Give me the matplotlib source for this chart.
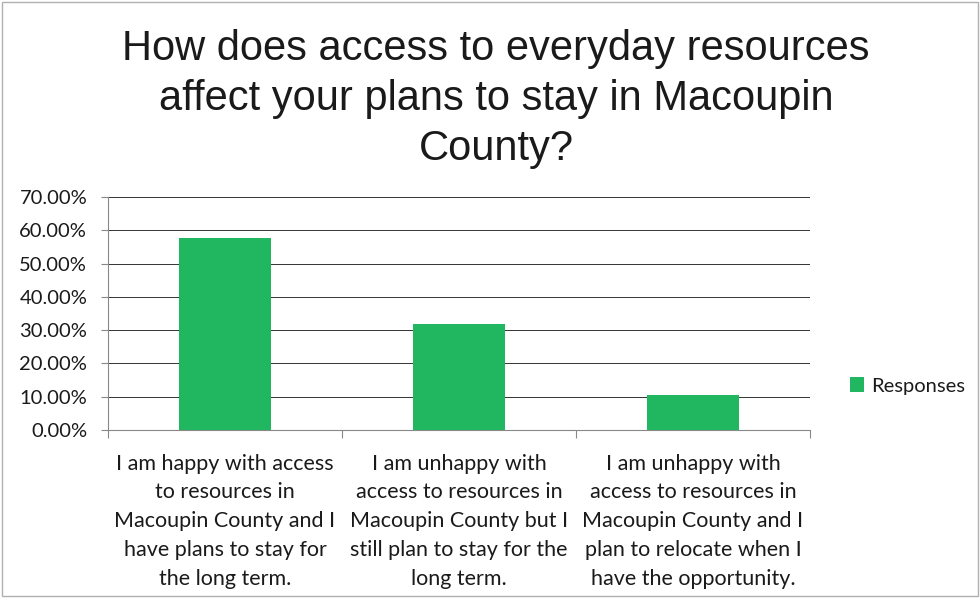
import matplotlib.pyplot as plt
from matplotlib.ticker import FuncFormatter, MultipleLocator
from matplotlib.patches import Rectangle

# survey answers and their share of responses
categories = [
    "I am happy with access\nto resources in\nMacoupin County and I\nhave plans to stay for\nthe long term.",
    "I am unhappy with\naccess to resources in\nMacoupin County but I\nstill plan to stay for the\nlong term.",
    "I am unhappy with\naccess to resources in\nMacoupin County and I\nplan to relocate when I\nhave the opportunity.",
]
responses = [0.576, 0.318, 0.106]
series_name = "Responses"
title = "How does access to everyday resources\naffect your plans to stay in Macoupin\nCounty?"

green = "#21b660"
label_font = ["Lato", "DejaVu Sans"]

fig = plt.figure(figsize=(9.8, 5.98), dpi=100)
fig.patch.set_facecolor("white")
# thin frame round the whole chart
fig.add_artist(Rectangle((0.002, 0.003), 0.996, 0.994, transform=fig.transFigure,
                         fill=False, edgecolor="#b0b0b0", linewidth=1))

ax = fig.add_axes([108 / 980, 1 - 430 / 598, 702 / 980, 233 / 598])

x = range(len(categories))
ax.bar(x, responses, width=0.39, color=green, zorder=3, label=series_name)

ax.set_xlim(-0.5, len(categories) - 0.5)
ax.set_ylim(0, 0.70)
ax.yaxis.set_major_locator(MultipleLocator(0.10))
ax.yaxis.set_major_formatter(FuncFormatter(lambda v, _: f"{v * 100:.2f}%"))
ax.grid(axis="y", color="#333333", linewidth=0.7, zorder=0)

for side in ["top", "right"]:
    ax.spines[side].set_visible(False)
ax.spines["left"].set_color("#888888")
ax.spines["bottom"].set_color("#888888")

# ticks between categories, labels centred under the bars
ax.set_xticks([i - 0.5 for i in range(len(categories) + 1)])
ax.set_xticklabels([])
ax.set_xticks(list(x), minor=True)
ax.set_xticklabels(categories, minor=True, fontfamily=label_font, fontsize=15.5,
                   color="#1a1a1a", linespacing=1.55)
ax.tick_params(axis="x", which="major", length=6, color="#888888")
ax.tick_params(axis="x", which="minor", length=0, pad=17)
ax.tick_params(axis="y", length=5, pad=10, color="#888888", labelsize=14.5,
               labelcolor="#1a1a1a")
for lbl in ax.get_yticklabels():
    lbl.set_fontfamily(label_font)

fig.text(496 / 980, 1 - 99 / 598, title, ha="center", va="center", fontsize=30,
         fontfamily=["Liberation Sans", "DejaVu Sans"], color="#1a1a1a", linespacing=1.33)

leg = fig.legend(loc="center left", bbox_to_anchor=(832 / 980, 1 - 386 / 598),
                 frameon=False, handlelength=0.7, handleheight=0.7, handletextpad=0.35,
                 prop={"family": label_font, "size": 14.5})
for t in leg.get_texts():
    t.set_color("#1a1a1a")

fig.savefig("out.png", dpi=100, facecolor="white")
